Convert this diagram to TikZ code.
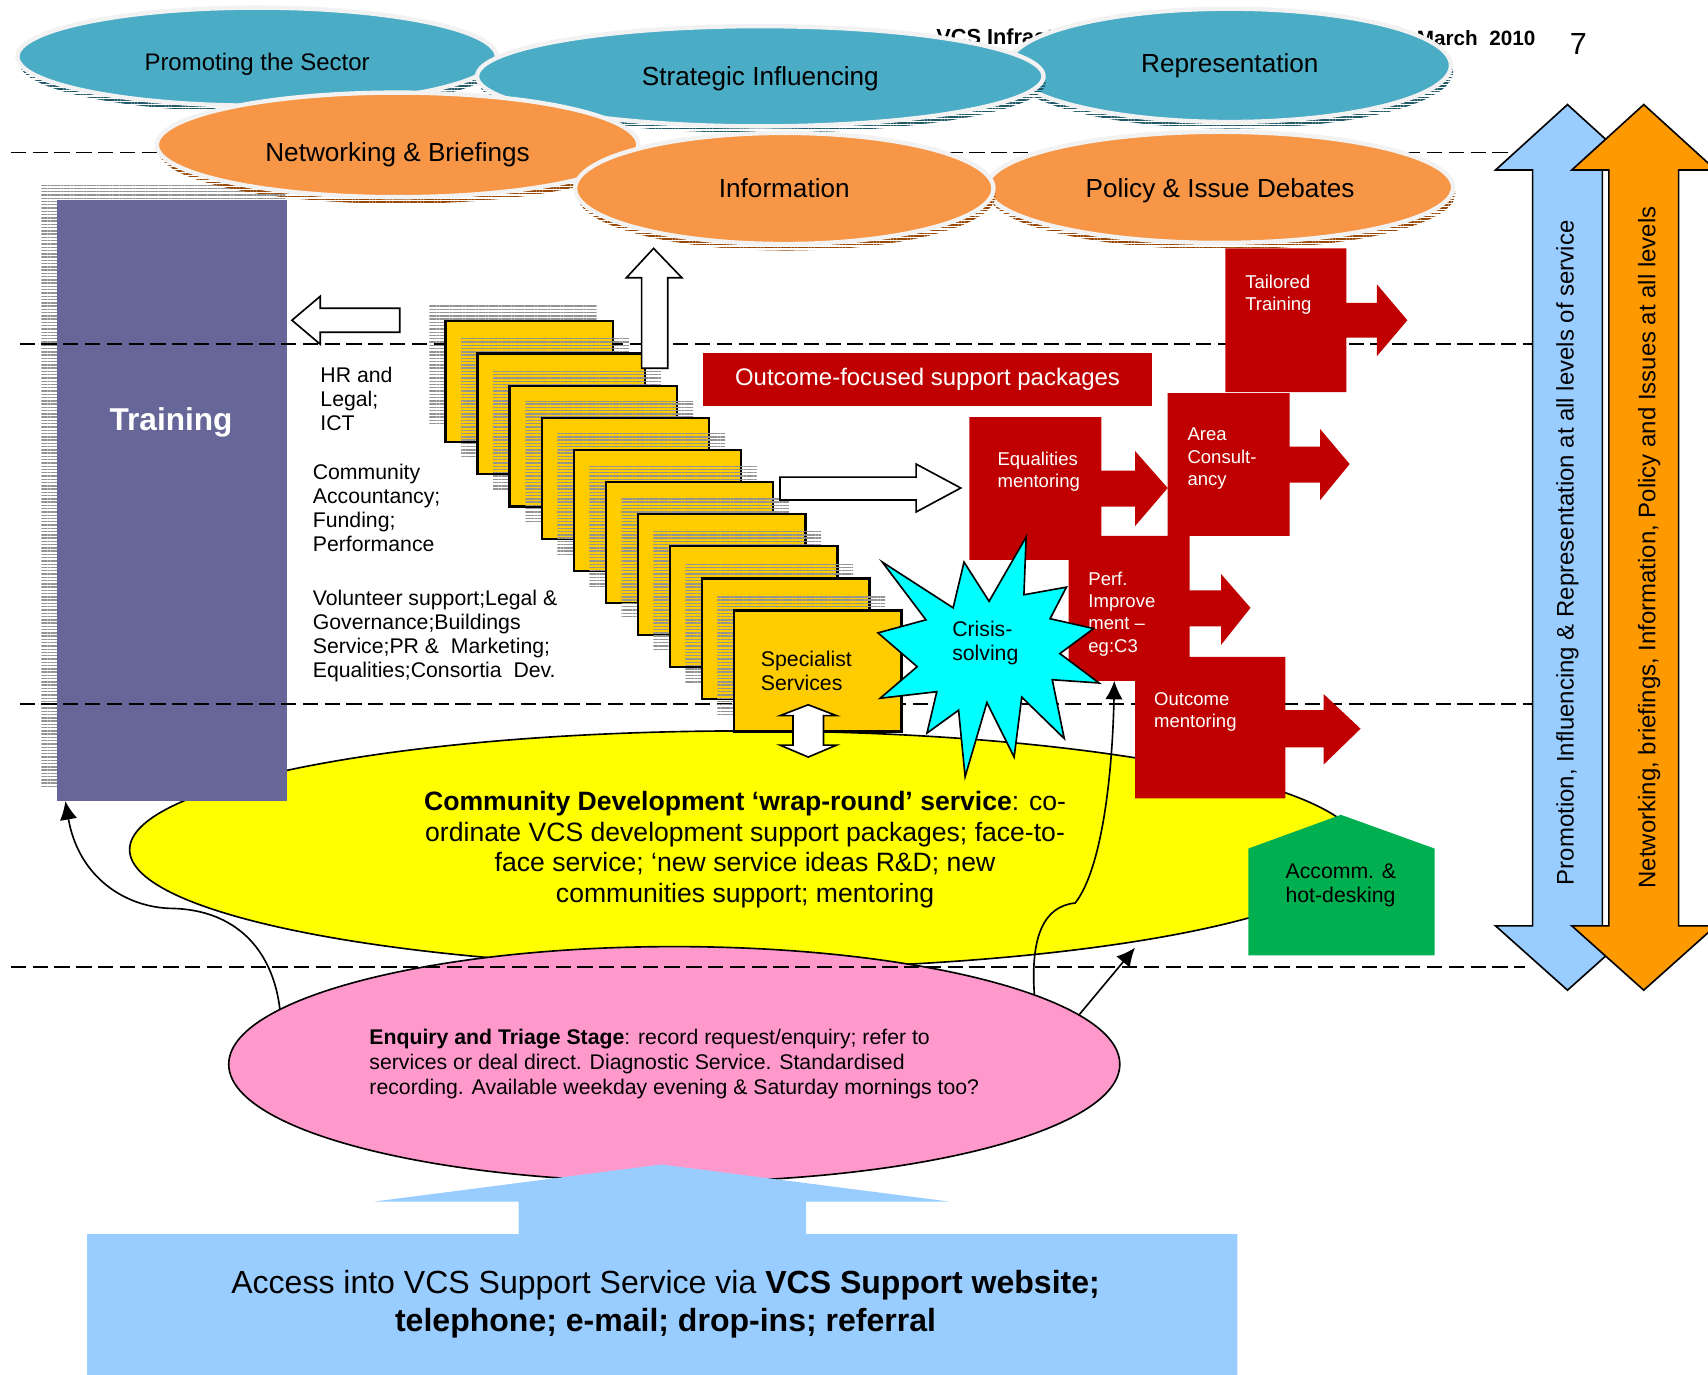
\documentclass[tikz,border=0pt]{standalone}
\usepackage{fontspec}
\setmainfont{Liberation Sans}
\usetikzlibrary{shapes.geometric,shadows,patterns.meta,arrows.meta}

\definecolor{tealell}{RGB}{75,172,198}
\definecolor{tealshade}{RGB}{33,89,104}
\definecolor{orangeell}{RGB}{247,150,70}
\definecolor{orangeshade}{RGB}{152,72,7}
\definecolor{ellrim}{RGB}{242,242,242}
\definecolor{trainblue}{RGB}{102,102,153}
\definecolor{cardgold}{RGB}{255,204,0}
\definecolor{packred}{RGB}{192,0,0}
\definecolor{crisiscyan}{RGB}{0,255,255}
\definecolor{wrapyellow}{RGB}{255,255,0}
\definecolor{triagepink}{RGB}{255,153,204}
\definecolor{accessblue}{RGB}{153,204,255}
\definecolor{accommgreen}{RGB}{0,176,80}
\definecolor{levelorange}{RGB}{255,153,0}

\newcommand{\setfs}[2]{\fontsize{#1}{#2}\selectfont}

\begin{document}
\begin{tikzpicture}[x=1pt,y=-1pt,
    top ell/.style={ellipse,inner sep=0pt,draw=ellrim,line width=4pt,font=\setfs{24}{28},text depth=5pt},
    blue ell/.style={top ell,fill=tealell,drop shadow={shadow xshift=2pt,shadow yshift=-6pt,opacity=1,pattern={Lines[angle=0,distance=2.6pt,line width=1.4pt]},pattern color=tealshade}},
    orange ell/.style={top ell,fill=orangeell,drop shadow={shadow xshift=2pt,shadow yshift=-6pt,opacity=1,pattern={Lines[angle=0,distance=2.6pt,line width=1.4pt]},pattern color=orangeshade}},
    tier line/.style={line width=1.5pt,dash pattern=on 14pt off 6pt},
    stripes/.style={pattern={Lines[angle=0,distance=3pt,line width=1.3pt]},pattern color=gray!85},
    card/.style={draw,line width=2pt,fill=cardgold,minimum width=154pt,minimum height=111pt,anchor=north west,inner sep=0pt},
    side text/.style={anchor=west,align=left,inner sep=0pt,font=\setfs{19.5}{22}},
    red text/.style={anchor=west,align=left,inner sep=0pt,text=white,font=\setfs{17}{20.5}},
    hollow arrow/.style={fill=white,draw,line width=1.5pt,line join=miter},
    link/.style={line width=1.5pt,-{Latex[length=17pt,width=16pt]}}]
  \path[use as bounding box,fill=white] (0,0) rectangle (1568,1262);

  \node[anchor=west,font=\bfseries\setfs{20}{24}] (header) at (856,34) {VCS Infrastructure};
  \node[anchor=east,font=\bfseries\setfs{19}{23}] (date) at (1413,35) {March\ \ 2010};
  \node[font=\setfs{28}{32}] (page) at (1449,40) {7};

  \node[ellipse,draw,line width=1.5pt,fill=wrapyellow,minimum width=1130pt,minimum height=218pt,inner sep=0pt,align=center,font=\setfs{24.4}{28}] (wrap) at (684,780)
    {\textbf{Community Development ‘wrap-round’ service}: co-\\ordinate VCS development support packages; face-to-\\face service; ‘new service ideas R\&D; new\\communities support; mentoring};

  \path[stripes] (38,170) rectangle (262,722);
  \node[fill=trainblue,minimum width=211pt,minimum height=552pt,anchor=north west,inner sep=0pt] (training) at (52,183) {};
  \node[text=white,font=\bfseries\setfs{29}{34}] (training label) at (157,388) {Training};

  \node[ellipse,draw,line width=1.5pt,fill=triagepink,minimum width=818pt,minimum height=216pt,inner sep=0pt,align=left,font=\setfs{19.5}{23}] (triage) at (619,977)
    {\textbf{Enquiry and Triage Stage}: record request/enquiry; refer to\\services or deal direct. Diagnostic Service. Standardised\\recording. Available weekday evening \& Saturday mornings too?};

  \draw[tier line] (10,140) -- (1400,140);
  \draw[tier line] (18,316) -- (1410,316);
  \draw[tier line] (18,646) -- (1410,646);
  \draw[tier line] (10,888) -- (1400,888);

  \node[side text] (hr) at (294,366) {HR and\\Legal;\\ICT};
  \node[side text] (finance) at (287,466) {Community\\Accountancy;\\Funding;\\Performance};
  \node[side text] (volunteer) at (287,583.5) {Volunteer support;Legal \&\\Governance;Buildings\\Service;PR \&\ \ Marketing;\\Equalities;Consortia\ \ Dev.};

  \path[stripes] (394,280) rectangle +(154,111);
  \node[card] (card1) at (408,294) {};
  \path[stripes] (423.4,309.5) rectangle +(154,111);
  \node[card] (card2) at (437.4,323.5) {};
  \path[stripes] (452.8,339) rectangle +(154,111);
  \node[card] (card3) at (466.8,353) {};
  \path[stripes] (482.2,368.5) rectangle +(154,111);
  \node[card] (card4) at (496.2,382.5) {};
  \path[stripes] (511.6,398) rectangle +(154,111);
  \node[card] (card5) at (525.6,412) {};
  \path[stripes] (541,427.5) rectangle +(154,111);
  \node[card] (card6) at (555,441.5) {};
  \path[stripes] (570.4,457) rectangle +(154,111);
  \node[card] (card7) at (584.4,471) {};
  \path[stripes] (599.8,486.5) rectangle +(154,111);
  \node[card] (card8) at (613.8,500.5) {};
  \path[stripes] (629.2,516) rectangle +(154,111);
  \node[card] (card9) at (643.2,530) {};
  \path[stripes] (658.6,545.5) rectangle +(154,111);
  \node[card,text width=104pt,align=left,font=\setfs{19.5}{22}] (specialist) at (672.6,559.5) {Specialist\\Services};

  \draw[hollow arrow] (268,294) -- (294,272) -- (294,283) -- (367,283) -- (367,305) -- (294,305) -- (294,316) -- cycle;
  \draw[hollow arrow] (600,228) -- (626,255) -- (613,255) -- (613,338) -- (589,338) -- (589,255) -- (575,255) -- cycle;
  \draw[hollow arrow] (716,438) -- (841,438) -- (841,426) -- (882,448) -- (841,470) -- (841,459) -- (716,459) -- cycle;
  \draw[hollow arrow] (742,647) -- (768,657) -- (756,657) -- (756,684) -- (768,684) -- (742,695) -- (716,684) -- (728,684) -- (728,657) -- (716,657) -- cycle;

  \node[fill=packred,text=white,minimum width=413pt,minimum height=49pt,inner sep=0pt,font=\setfs{22}{26}] (packages) at (851.5,348.5) {Outcome-focused support packages};
  \fill[packred] (1125,228) -- (1236,228) -- (1236,278) -- (1264,278) -- (1264,261) -- (1292,294) -- (1264,327) -- (1264,310) -- (1236,310) -- (1236,360) -- (1125,360) -- cycle;
  \fill[packred] (1072,361) -- (1184,361) -- (1184,410) -- (1212,410) -- (1212,394) -- (1239,426) -- (1212,459) -- (1212,443) -- (1184,443) -- (1184,492) -- (1072,492) -- cycle;
  \fill[packred] (890,383) -- (1011,383) -- (1011,432) -- (1042,432) -- (1042,414) -- (1072,448) -- (1042,483) -- (1042,465) -- (1011,465) -- (1011,514) -- (890,514) -- cycle;
  \fill[packred] (981,492) -- (1092,492) -- (1092,542) -- (1121,542) -- (1121,527) -- (1148,558) -- (1121,592) -- (1121,575) -- (1092,575) -- (1092,625) -- (981,625) -- cycle;
  \fill[packred] (1042,603) -- (1180,603) -- (1180,652) -- (1215,652) -- (1215,637) -- (1249,669) -- (1215,702) -- (1215,686) -- (1180,686) -- (1180,733) -- (1042,733) -- cycle;
  \node[red text] (tailored) at (1143,270.5) {Tailored\\Training};
  \node[red text] (area) at (1090,421) {Area\\Consult-\\ancy};
  \node[red text] (equalities) at (915.6,433) {Equalities\\mentoring};
  \node[red text] (perf) at (999,563.5) {Perf.\\Improve\\ment –\\eg:C3};
  \node[red text] (outcome) at (1059.4,653.5) {Outcome\\mentoring};

  \draw[fill=crisiscyan,line width=1.5pt,line join=miter] (810,516) -- (875,558) -- (885,516) -- (908,552) -- (942,493) -- (940,546) -- (979,539) -- (964,568) -- (1004,577) -- (973,600) -- (1009,627) -- (966,624) -- (977,678) -- (938,640) -- (931,695) -- (906,645) -- (886,713) -- (880,652) -- (851,673) -- (860,635) -- (808,641) -- (842,612) -- (806,581) -- (850,569) -- cycle;
  \node[side text] (crisis) at (874,590.5) {Crisis-\\solving};

  \fill[accommgreen] (1146,779) -- (1231,748) -- (1317,779) -- (1317,877) -- (1146,877) -- cycle;
  \node[side text] (accomm) at (1180,812.5) {Accomm. \&\\hot-desking};

  \coordinate (perf foot) at (1023,625);
  \coordinate (wrap rim) at (1042,870);
  \draw[link] (triage.172) .. controls (250,870) and (215,836) .. (160,834) .. controls (115,834) and (72,805) .. ([xshift=8pt]training.south west);
  \draw[link] (triage.11) .. controls (946,860) and (958,832) .. (987,829) .. controls (1010,800) and (1021,720) .. (perf foot);
  \draw[link] (triage.7) -- (wrap rim);

  \fill[accessblue] (80,1133) -- (476,1133) -- (476,1103) -- (344,1103) -- (607,1069) -- (871,1103) -- (740,1103) -- (740,1133) -- (1136,1133) -- (1136,1270) -- (80,1270) -- cycle;
  \node[align=center,font=\setfs{29.4}{35}] (access) at (611,1197) {Access into VCS Support Service via \textbf{VCS Support website;}\\\textbf{telephone; e-mail; drop-ins; referral}};

  \node[blue ell,minimum width=440pt,minimum height=90pt,font=\setfs{22}{26},text height=31pt] (promoting) at (236,52) {Promoting the Sector};
  \node[blue ell,minimum width=406pt,minimum height=104pt,text height=18pt] (representation) at (1129,60) {Representation};
  \node[blue ell,minimum width=520pt,minimum height=92pt,text height=22pt] (strategic) at (698,70) {Strategic Influencing};
  \node[orange ell,minimum width=442pt,minimum height=96pt,text height=36pt] (networking) at (365,133) {Networking \& Briefings};
  \node[orange ell,minimum width=428pt,minimum height=102pt,text height=24pt] (policy) at (1120,172) {Policy \& Issue Debates};
  \node[orange ell,minimum width=384pt,minimum height=102pt,text height=22pt] (information) at (720,173) {Information};

  \draw[fill=accessblue,line width=1.5pt,line join=miter] (1439,96) -- (1505,156) -- (1471,156) -- (1471,850) -- (1505,850) -- (1439,909) -- (1373,850) -- (1407,850) -- (1407,156) -- (1373,156) -- cycle;
  \draw[fill=levelorange,line width=1.5pt,line join=miter] (1509,96) -- (1575,156) -- (1541,156) -- (1541,850) -- (1575,850) -- (1509,909) -- (1443,850) -- (1477,850) -- (1477,156) -- (1443,156) -- cycle;
  \node[rotate=90,font=\setfs{22}{26}] (promotion band) at (1439,507.5) {Promotion, Influencing \& Representation at all levels of service};
  \node[rotate=90,font=\setfs{22}{26}] (networking band) at (1514,502.5) {Networking, briefings, Information, Policy and Issues at all levels};
\end{tikzpicture}
\end{document}
